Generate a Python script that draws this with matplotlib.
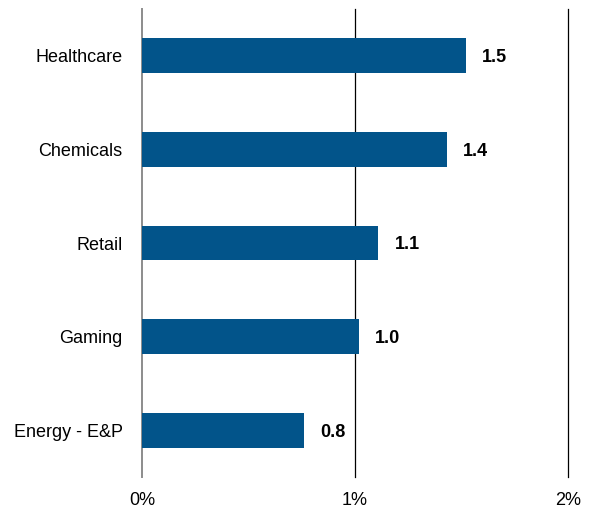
import matplotlib.pyplot as plt
from matplotlib import font_manager

sectors = ['Healthcare', 'Chemicals', 'Retail', 'Gaming', 'Energy - E&P']
values = [1.52, 1.43, 1.11, 1.02, 0.76]
xticks = [0, 1, 2]
xtick_labels = ['0%', '1%', '2%']

names = {f.name for f in font_manager.fontManager.ttflist}
family = 'Liberation Sans Narrow' if 'Liberation Sans Narrow' in names else 'Liberation Sans'
plt.rcParams['font.family'] = [family, 'DejaVu Sans']

fig = plt.figure(figsize=(5.95, 5.16), dpi=100)
ax = fig.add_axes([142 / 595, 1 - 477 / 516, (568 - 142) / 595, (477 - 9) / 516])

ypos = list(range(len(sectors)))
ax.barh(ypos, values, height=0.37, color='#02548A', zorder=3)

# value labels next to each bar, bold
for y, v in zip(ypos, values):
    ax.text(v + 0.075, y + 0.02, f'{v:.1f}', va='center', ha='left',
            fontsize=13, fontweight='bold', color='black')

ax.axvline(0, color='#8c8c8c', linewidth=1.4, zorder=2, clip_on=False)
for x in xticks[1:]:
    ax.axvline(x, color='black', linewidth=0.9, zorder=1, clip_on=False)

ax.set_xlim(0, 2)
ax.set_ylim(len(sectors) - 0.5, -0.5)
ax.set_yticks(ypos)
ax.set_yticklabels(sectors, fontsize=13)
ax.set_xticks(xticks)
ax.set_xticklabels(xtick_labels, fontsize=13)
ax.tick_params(axis='y', length=0, pad=14)
ax.tick_params(axis='x', length=0, pad=11)

for s in ax.spines.values():
    s.set_visible(False)

plt.savefig('out.png', dpi=100)
